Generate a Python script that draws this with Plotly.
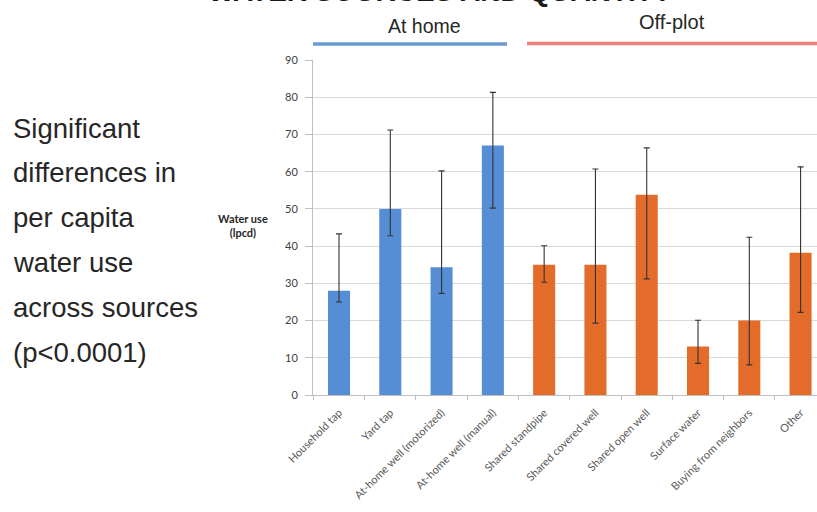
import plotly.graph_objects as go

# Water sources and mean per capita water use (litres per capita per day)
sources = [
    "Household tap", "Yard tap", "At-home well (motorized)", "At-home well (manual)",
    "Shared standpipe", "Shared covered well", "Shared open well", "Surface water",
    "Buying from neighbors", "Other",
]
groups = ["At home"] * 4 + ["Off-plot"] * 6
water_use = [28, 50, 34.3, 67, 35, 35, 53.8, 13, 20, 38.2]
err_high = [43.3, 71.2, 60.2, 81.3, 40.1, 60.7, 66.4, 20.1, 42.4, 61.3]
err_low = [25, 42.8, 27.3, 50.2, 30.3, 19.3, 31.2, 8.5, 8.1, 22.2]
y_ticks = [0, 10, 20, 30, 40, 50, 60, 70, 80, 90]

group_colors = {"At home": "#558ED5", "Off-plot": "#E46C2A"}
bar_colors = [group_colors[g] for g in groups]

fig = go.Figure(
    go.Bar(
        x=sources,
        y=water_use,
        marker=dict(color=bar_colors, line=dict(width=0)),
        width=0.43,
        error_y=dict(
            type="data",
            symmetric=False,
            array=[h - v for h, v in zip(err_high, water_use)],
            arrayminus=[v - l for v, l in zip(water_use, err_low)],
            color="#333333",
            thickness=1.1,
            width=3,
        ),
        hoverinfo="skip",
    )
)

fig.update_layout(
    width=817,
    height=512,
    margin=dict(l=313, r=0, t=60, b=117),
    paper_bgcolor="white",
    plot_bgcolor="white",
    showlegend=False,
    font=dict(family="Lato, Open Sans, sans-serif", color="#595959"),
)

fig.update_xaxes(
    range=[-0.507, 9.32],
    tickangle=-45,
    tickfont=dict(size=11, color="#595959"),
    showline=True,
    linecolor="#bfbfbf",
    linewidth=1,
    ticks="outside",
    tickson="boundaries",
    ticklen=4,
    tickcolor="#bfbfbf",
    ticklabelstandoff=6,
    showgrid=False,
)

fig.update_yaxes(
    range=[0, 90],
    tickvals=y_ticks,
    tickfont=dict(size=11, color="#404040"),
    showline=True,
    linecolor="#bfbfbf",
    linewidth=1,
    ticks="outside",
    ticklen=7,
    tickcolor="#bfbfbf",
    ticklabelstandoff=5,
    showgrid=True,
    gridcolor="#d9d9d9",
    gridwidth=1.3,
    zeroline=False,
)

# Y-axis caption
fig.add_annotation(
    text="<b>Water use<br>(lpcd)</b>",
    xref="paper", yref="paper",
    x=(243 - 313) / 504, y=(395 - 225) / 335,
    xanchor="center", yanchor="middle",
    showarrow=False,
    font=dict(size=11, color="#262626"),
)

# Group headers with coloured rules
fig.add_annotation(
    text="At home", xref="paper", yref="paper",
    x=(424 - 313) / 504, y=1.0 + (60 - 26) / 335,
    xanchor="center", yanchor="middle", showarrow=False,
    font=dict(size=19.5, color="#262626", family="Liberation Sans, Arial, sans-serif"),
)
fig.add_annotation(
    text="Off-plot", xref="paper", yref="paper",
    x=(672 - 313) / 504, y=1.0 + (60 - 22) / 335,
    xanchor="center", yanchor="middle", showarrow=False,
    font=dict(size=20, color="#262626", family="Liberation Sans, Arial, sans-serif"),
)
fig.add_shape(
    type="line", xref="paper", yref="paper",
    x0=0, x1=(507 - 313) / 504,
    y0=1.0 + (60 - 44) / 335, y1=1.0 + (60 - 44) / 335,
    line=dict(color="#6A9AD0", width=3.5),
)
fig.add_shape(
    type="line", xref="paper", yref="paper",
    x0=(527 - 313) / 504, x1=1.0,
    y0=1.0 + (60 - 43.5) / 335, y1=1.0 + (60 - 43.5) / 335,
    line=dict(color="#EE7F7B", width=3.5),
)

# Slide title running off the top edge
fig.add_annotation(
    text="<b>WATER SOURCES AND QUANTITY</b>",
    xref="paper", yref="paper",
    x=(440 - 313) / 504, y=1.0 + (60 - 9.5) / 335,
    xanchor="center", yanchor="bottom", showarrow=False,
    font=dict(size=28, color="#1a1a1a", family="Liberation Sans, Arial, sans-serif"),
)

# Side note on the left
note_lines = [
    "Significant", "differences in", "per capita",
    "water use", "across sources", "(p<0.0001)",
]
for i, line in enumerate(note_lines):
    y_px = 128 + i * 44.8
    fig.add_annotation(
        text=line, xref="paper", yref="paper",
        x=-(313 - 11) / 504, y=(395 - y_px) / 335,
        xanchor="left", yanchor="middle", showarrow=False,
        font=dict(size=27.5, color="#262626", family="Liberation Sans, Arial, sans-serif"),
    )

fig.write_html("out.html")
